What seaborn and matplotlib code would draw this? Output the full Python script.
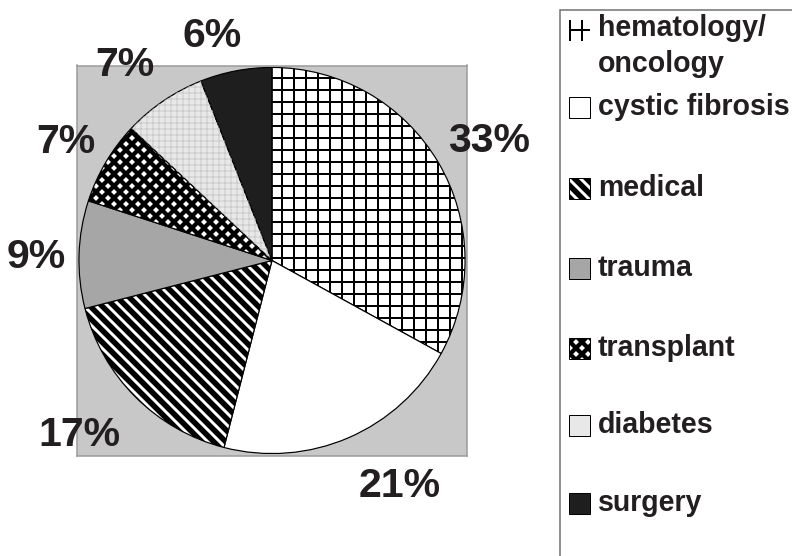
import numpy as np
import matplotlib
matplotlib.use("Agg")
import matplotlib.pyplot as plt
from matplotlib.patches import Rectangle, Wedge
import seaborn as sns

# data
categories = ["hematology/\noncology", "cystic fibrosis", "medical", "trauma",
              "transplant", "diabetes", "surgery"]
shares = [33, 21, 17, 9, 7, 7, 6]

# styles per slice
faces = ["white", "white", "white", "#a6a6a6", "white", "#e8e8e8", "#1e1e1e"]
hatches = ["+", None, "\\\\", None, "xx", None, None]
hatch_lw = [2.0, 1.0, 5.5, 1.0, 4.3, 1.0, 1.0]
# where the percentage labels sit: radius factor and small turn off the mid-angle
label_dist = [1.28, 1.31, 1.32, 1.21, 1.23, 1.27, 1.21]
label_turn = [-1.0, 6.5, -3.4, 0.0, 0.0, 2.2, 3.9]

sns.set_style("white")
plt.rcParams["font.family"] = ["Liberation Sans", "DejaVu Sans"]
plt.rcParams["font.weight"] = "bold"
text_col = "#231f20"

# 72 dpi so hatch spacing matches the scanned patterns (1 pt = 1 px)
W, H = 792, 556
fig = plt.figure(figsize=(W / 72, H / 72), dpi=72)
ax = fig.add_axes([77 / W, 1 - 456 / H, 390 / W, 391 / H])

wedges, _, autotexts = ax.pie(
    shares, startangle=90, counterclock=False, radius=0.99, frame=True,
    colors=faces, autopct=lambda p: f"{p:.0f}%", pctdistance=1.3,
    wedgeprops=dict(edgecolor="black", linewidth=1.2),
    textprops=dict(fontsize=41, fontweight="bold", color=text_col),
)
ax.set_facecolor("#c8c8c8")
for s in ax.spines.values():
    s.set_visible(True)
    s.set_color("#9a9a9a")
    s.set_linewidth(1.5)

for w, h, lw in zip(wedges, hatches, hatch_lw):
    if h:
        w.set_hatch(h)
        if hasattr(w, "set_hatch_linewidth"):
            w.set_hatch_linewidth(lw)

# move each percentage label to where the reference puts it
for w, t, d, turn in zip(wedges, autotexts, label_dist, label_turn):
    ang = np.deg2rad((w.theta1 + w.theta2) / 2 + turn)
    t.set_position((d * np.cos(ang), d * np.sin(ang) - 0.02))
    t.set_clip_on(False)
    t.set_zorder(5)

# fine grey grid on the diabetes slice
dw = wedges[5]
grid = Wedge(dw.center, dw.r, dw.theta1, dw.theta2, facecolor="none",
             edgecolor="#c4c4c4", hatch="++", linewidth=0)
if hasattr(grid, "set_hatch_linewidth"):
    grid.set_hatch_linewidth(0.8)
ax.add_patch(grid)

ax.set_xlim(-1.0, 1.0)
ax.set_ylim(-1.0, 1.0)
ax.set_xticks([])
ax.set_yticks([])

# legend box (runs off the figure edge like the reference)
fig.patches.append(Rectangle((560 / W, -0.05), 0.4, 1 - 10 / H + 0.05,
                             transform=fig.transFigure, facecolor="white",
                             edgecolor="#6d6d6d", linewidth=1.5, zorder=0))
legend_rows = [30, 107, 188, 268, 348, 425, 503]
box = 21
for name, y, fc, h, lw in zip(categories, legend_rows, faces, hatches, hatch_lw):
    x0, y0 = 569 / W, 1 - (y + box / 2) / H
    if h == "+":
        r = Rectangle((x0, y0), box / W, box / H, transform=fig.transFigure,
                      facecolor="white", edgecolor="black", linewidth=0, hatch="+")
    else:
        r = Rectangle((x0, y0), box / W, box / H, transform=fig.transFigure,
                      facecolor=fc, edgecolor="black", linewidth=1.0, hatch=h)
    if h and hasattr(r, "set_hatch_linewidth"):
        r.set_hatch_linewidth(lw)
    fig.patches.append(r)
    if "\n" in name:
        fig.text(598 / W, 1 - (y - 16) / H, name, va="top", fontsize=28.5,
                 fontweight="bold", color=text_col, linespacing=1.38)
    else:
        fig.text(598 / W, 1 - y / H, name, va="center", fontsize=28.5,
                 fontweight="bold", color=text_col)

fig.savefig("out.png", dpi=72)
